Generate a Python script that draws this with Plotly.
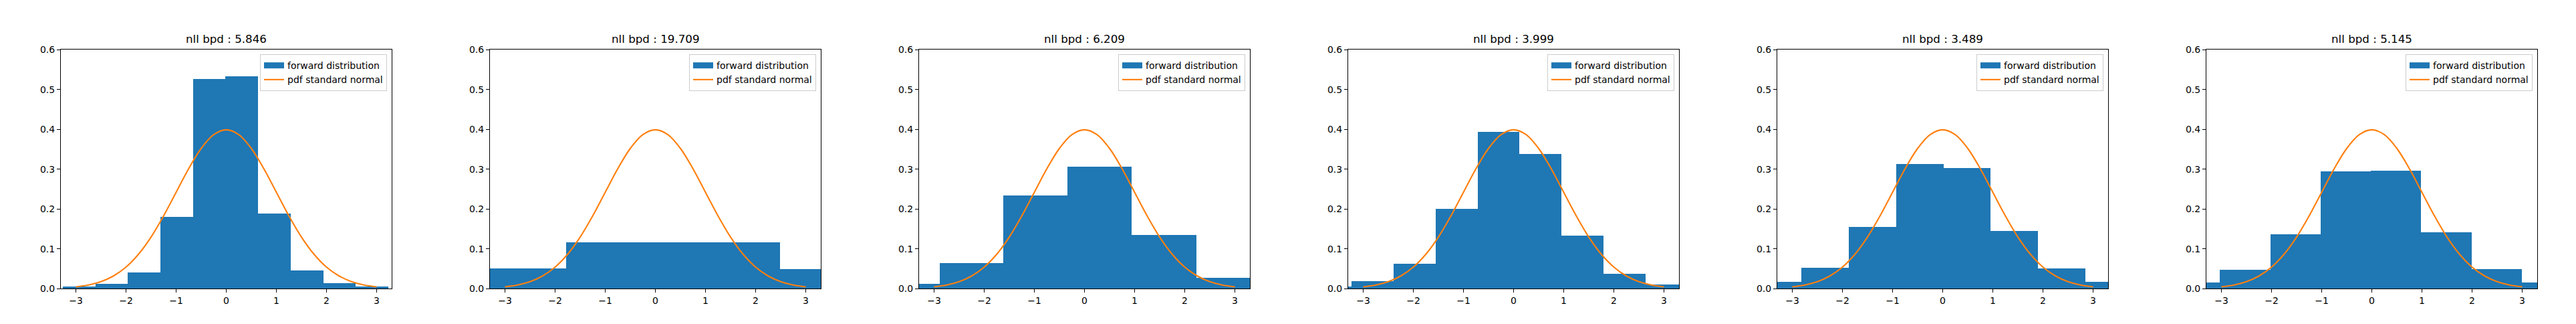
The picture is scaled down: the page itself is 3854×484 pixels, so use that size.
import plotly.graph_objects as go

# histogram bin edges / densities
titles = ["nll bpd : 5.846", "nll bpd : 19.709", "nll bpd : 6.209",
          "nll bpd : 3.999", "nll bpd : 3.489", "nll bpd : 5.145"]

edges_1 = [-3.26, -2.611, -1.962, -1.312, -0.663, -0.014, 0.635, 1.285, 1.934, 2.583, 3.232]
dens_1 = [0.0054, 0.0119, 0.0396, 0.1794, 0.5257, 0.5322, 0.1875, 0.0444, 0.0136, 0.0054]

edges_2 = [-6.033, -1.775, 2.483, 6.741]
dens_2 = [0.0509, 0.116, 0.0477]

edges_3 = [-4.16, -2.882, -1.615, -0.337, 0.946, 2.229, 3.507]
dens_3 = [0.0119, 0.064, 0.233, 0.306, 0.1339, 0.0266]

edges_4 = [-4.07, -3.23, -2.389, -1.549, -0.708, 0.116, 0.957, 1.798, 2.638, 3.478]
dens_4 = [0.0054, 0.0184, 0.0623, 0.2005, 0.3924, 0.3371, 0.1322, 0.0363, 0.0103]

edges_5 = [-3.762, -2.818, -1.867, -0.923, 0.022, 0.956, 1.901, 2.845, 3.789]
dens_5 = [0.0168, 0.0526, 0.155, 0.3127, 0.303, 0.1436, 0.0509, 0.0168]

edges_6 = [-4.04, -3.035, -2.025, -1.026, -0.017, 0.982, 1.992, 2.993, 3.998]
dens_6 = [0.0152, 0.0461, 0.1355, 0.2932, 0.2948, 0.1404, 0.0477, 0.0152]

# standard normal pdf samples
pdf_x = [-3, -2.75, -2.5, -2.25, -2, -1.75, -1.5, -1.25, -1, -0.75, -0.5, -0.25, 0,
         0.25, 0.5, 0.75, 1, 1.25, 1.5, 1.75, 2, 2.25, 2.5, 2.75, 3]
pdf_y = [0.00443, 0.00909, 0.01753, 0.03174, 0.05399, 0.08628, 0.12952, 0.18265, 0.24197,
         0.30114, 0.35207, 0.38667, 0.39894, 0.38667, 0.35207, 0.30114, 0.24197, 0.18265,
         0.12952, 0.08628, 0.05399, 0.03174, 0.01753, 0.00909, 0.00443]

x_ticks = [-3, -2, -1, 0, 1, 2, 3]
x_ticktext = ["\u22123", "\u22122", "\u22121", "0", "1", "2", "3"]
y_ticks = [0.0, 0.1, 0.2, 0.3, 0.4, 0.5, 0.6]
y_ticktext = ["0.0", "0.1", "0.2", "0.3", "0.4", "0.5", "0.6"]

all_edges = [edges_1, edges_2, edges_3, edges_4, edges_5, edges_6]
all_dens = [dens_1, dens_2, dens_3, dens_4, dens_5, dens_6]

W, H = 3854, 484
FONT = "DejaVu Sans"
ax_left0, ax_step, ax_w = 83, 642, 495
y_dom = [1 - 429.3 / H, 1 - 60.3 / H]

fig = go.Figure()
layout = dict(width=W, height=H, autosize=False,
              margin=dict(l=0, r=0, t=0, b=0),
              paper_bgcolor="white", plot_bgcolor="white",
              font=dict(family=FONT, size=14, color="black"),
              bargap=0, showlegend=True, annotations=[])

for i in range(6):
    n = "" if i == 0 else str(i + 1)
    lg = "legend" + n
    e = all_edges[i]
    centers = [(e[k] + e[k + 1]) / 2 for k in range(len(e) - 1)]
    widths = [e[k + 1] - e[k] for k in range(len(e) - 1)]
    fig.add_trace(go.Bar(x=centers, y=all_dens[i], width=widths,
                         marker=dict(color="#1f77b4", line=dict(width=0)),
                         name="forward distribution", showlegend=False,
                         xaxis="x" + n, yaxis="y" + n))
    # legend glyph: wide flat patch like matplotlib's
    fig.add_trace(go.Scatter(x=[None], y=[None], mode="lines",
                             line=dict(color="#1f77b4", width=9),
                             name="forward distribution", legend=lg,
                             xaxis="x" + n, yaxis="y" + n))
    fig.add_trace(go.Scatter(x=pdf_x, y=pdf_y, mode="lines",
                             line=dict(color="#ff7f0e", width=2.1, shape="spline"),
                             name="pdf standard normal", legend=lg,
                             xaxis="x" + n, yaxis="y" + n))

    left = ax_left0 + ax_step * i
    right = left + ax_w
    axis_common = dict(showline=True, mirror=True, linecolor="black", linewidth=1,
                       ticks="outside", ticklen=5, tickwidth=1, tickcolor="black",
                       showgrid=False, zeroline=False,
                       tickfont=dict(family=FONT, size=14, color="black"))
    layout["xaxis" + n] = dict(domain=[left / W, right / W], range=[-3.3, 3.3],
                               tickmode="array", tickvals=x_ticks, ticktext=x_ticktext,
                               anchor="y" + n, **axis_common)
    layout["yaxis" + n] = dict(domain=y_dom, range=[0, 0.6],
                               tickmode="array", tickvals=y_ticks, ticktext=y_ticktext,
                               anchor="x" + n, **axis_common)
    layout[lg] = dict(x=(right - 7) / W, y=1 - 67.3 / H, xanchor="right", yanchor="top",
                      bgcolor="rgba(255,255,255,0.8)", bordercolor="#cccccc", borderwidth=1,
                      font=dict(family=FONT, size=14, color="black"),
                      tracegroupgap=0)
    layout["annotations"].append(dict(text=titles[i], xref="paper", yref="paper",
                                      x=(left + right) / 2 / W, y=y_dom[1],
                                      xanchor="center", yanchor="bottom", yshift=4,
                                      showarrow=False,
                                      font=dict(family=FONT, size=16.7, color="black")))

fig.update_layout(**layout)
fig.write_html("out.html")
